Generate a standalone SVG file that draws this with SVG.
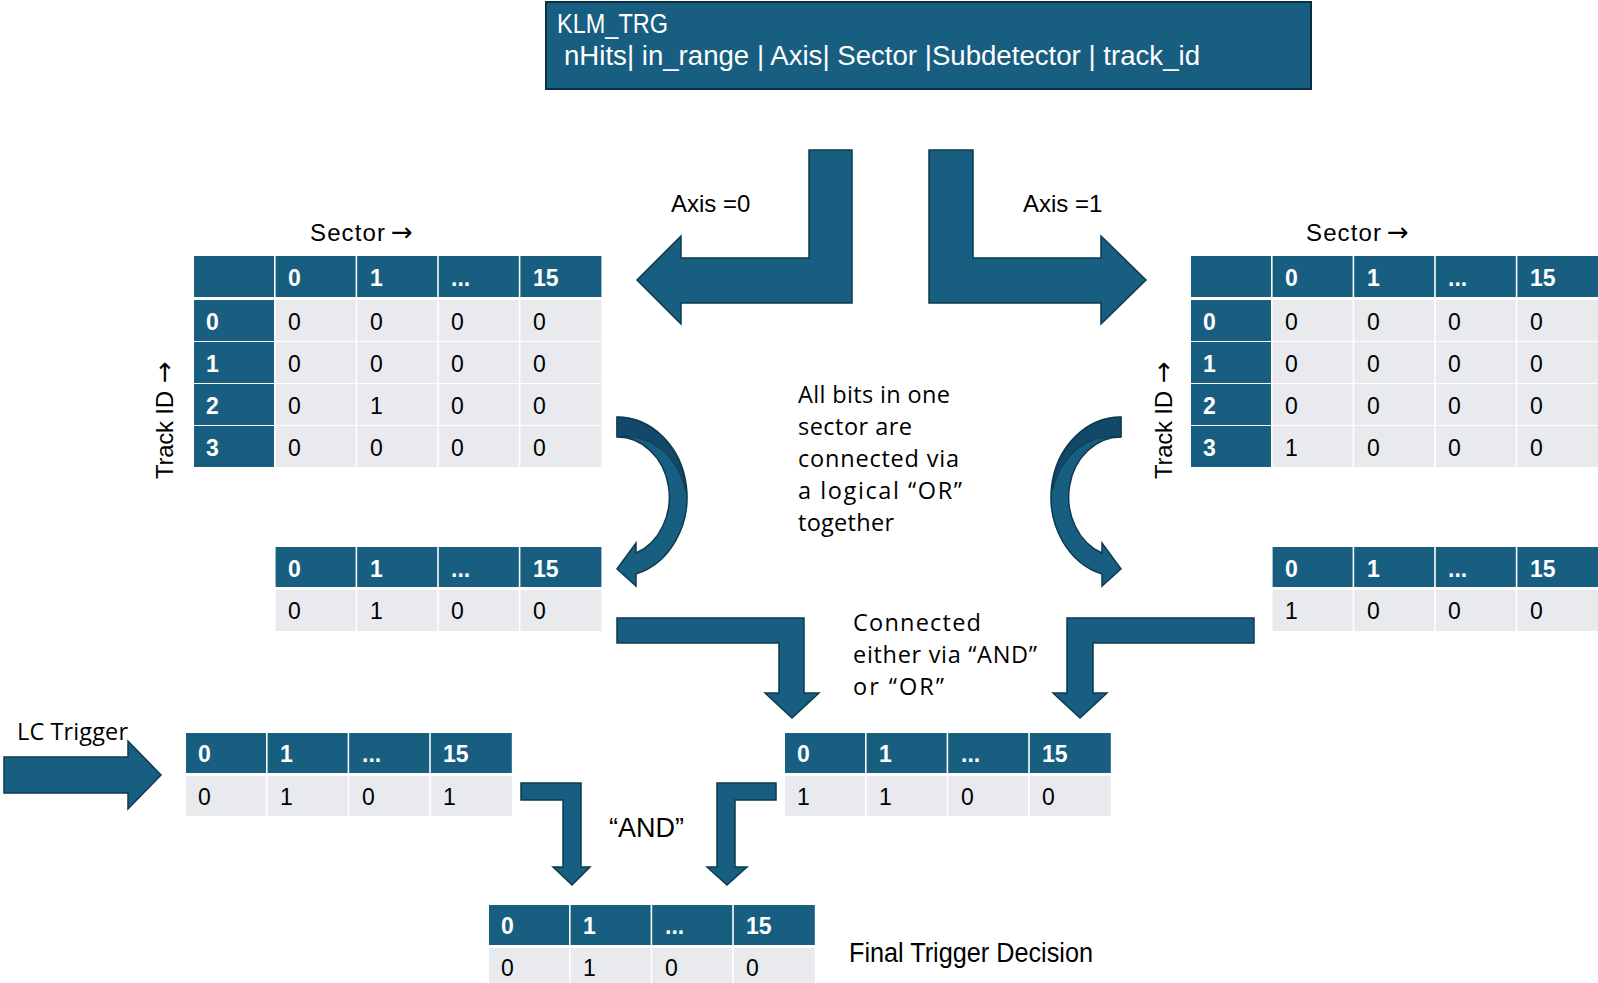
<svg xmlns="http://www.w3.org/2000/svg" width="1598" height="983" viewBox="0 0 1598 983">
<defs>
<style>
.h{fill:#175E81}
.d{fill:#E8EAED}
.ht{font-family:"Liberation Sans",Arial,sans-serif;font-weight:bold;font-size:23px;fill:#ffffff}
.dt{font-family:"Liberation Sans",Arial,sans-serif;font-size:23px;fill:#000000}
.lbl{font-family:"Liberation Sans",Arial,sans-serif;font-size:24px;fill:#000000}
.txt{font-family:"Open Sans","Liberation Sans",Arial,sans-serif;font-size:23.5px;fill:#000000}
.nar{font-family:"Liberation Sans",Arial,sans-serif;font-size:27px}
.ar{font-family:"DejaVu Sans",sans-serif;font-size:26px}
.arr{fill:#175E81;stroke:#0E3A4F;stroke-width:1.5;stroke-linejoin:miter}
.dark{fill:#12496A;stroke:#0E3A4F;stroke-width:1}
</style>
</defs>
<rect width="1598" height="983" fill="#ffffff"/>

<g id="klm_trg">
<rect x="546" y="2" width="765" height="87" fill="#175E81" stroke="#0B2E40" stroke-width="2"/>
<text class="nar" x="557" y="33" fill="#ffffff" textLength="111" lengthAdjust="spacingAndGlyphs">KLM_TRG</text>
<text class="nar" x="564" y="65" fill="#ffffff" textLength="636" lengthAdjust="spacingAndGlyphs">nHits| in_range | Axis| Sector |Subdetector | track_id</text>
</g>

<g id="connectors">
<path id="axis0-arrow" class="arr" d="M809,150 L852,150 L852,303 L681,303 L681,324 L637,280 L681,236 L681,258 L809,258 Z"/>
<path id="axis1-arrow" class="arr" d="M929,150 L973,150 L973,258 L1101,258 L1101,236 L1146,280 L1101,324 L1101,303 L929,303 Z"/>
<g id="curve-left">
<path class="arr" d="M617,417 A70,80 0 0 1 636,574 L636,586 L617,569 L636,543 L636,553 A52,60 0 0 0 617,437 Z"/>
<path class="dark" d="M617,417 A70,80 0 0 1 686,492 A62,72 0 0 0 617,437 Z"/>
</g>
<g id="curve-right" transform="matrix(-1,0,0,1,1738,0)">
<path class="arr" d="M617,417 A70,80 0 0 1 636,574 L636,586 L617,569 L636,543 L636,553 A52,60 0 0 0 617,437 Z"/>
<path class="dark" d="M617,417 A70,80 0 0 1 686,492 A62,72 0 0 0 617,437 Z"/>
</g>
<path id="or-left-down" class="arr" d="M617,618 L804,618 L804,693 L819,693 L792,718 L765,693 L779,693 L779,643 L617,643 Z"/>
<path id="or-right-down" class="arr" d="M1254,618 L1254,643 L1093,643 L1093,693 L1107,693 L1080,718 L1053,693 L1067,693 L1067,618 Z"/>
<path id="lc-arrow" class="arr" d="M4,757 L128,757 L128,741 L161,775 L128,809 L128,793 L4,793 Z"/>
<path id="and-left" class="arr" d="M521,783 L581,783 L581,867 L590,867 L572,885 L553,867 L563,867 L563,800 L521,800 Z"/>
<path id="and-right" class="arr" d="M776,783 L776,800 L735,800 L735,867 L747,867 L727,885 L707,867 L717,867 L717,783 Z"/>
</g>

<g id="labels">
<text class="lbl" x="671" y="212">Axis =0</text>
<text class="lbl" x="1023" y="212">Axis =1</text>
<text class="lbl" x="310" y="241"><tspan textLength="75">Sector</tspan><tspan class="ar" x="391">→</tspan></text>
<text class="lbl" x="1306" y="241"><tspan textLength="75">Sector</tspan><tspan class="ar" x="1387">→</tspan></text>
<text class="lbl" transform="translate(173,479) rotate(-90)"><tspan textLength="88">Track ID</tspan><tspan class="ar" x="96">→</tspan></text>
<text class="lbl" transform="translate(1172,479) rotate(-90)"><tspan textLength="88">Track ID</tspan><tspan class="ar" x="96">→</tspan></text>
<text class="txt" x="798" y="403" textLength="152">All bits in one</text>
<text class="txt" x="798" y="435" textLength="114">sector are</text>
<text class="txt" x="798" y="467" textLength="161">connected via</text>
<text class="txt" x="798" y="499" textLength="164">a logical  “OR”</text>
<text class="txt" x="798" y="531" textLength="96">together</text>
<text class="txt" x="853" y="631" textLength="128">Connected</text>
<text class="txt" x="853" y="663" textLength="184">either via “AND”</text>
<text class="txt" x="853" y="695" textLength="91">or  “OR”</text>
<text class="txt" x="17" y="740" textLength="111">LC Trigger</text>
<text class="nar" x="609" y="837" fill="#000000" textLength="75" lengthAdjust="spacingAndGlyphs">“AND”</text>
<text class="nar" x="849" y="962" fill="#000000" textLength="244" lengthAdjust="spacingAndGlyphs">Final Trigger Decision</text>
</g>

<g id="table-axis0">
<rect class="h" x="194" y="256" width="80" height="41"/>
<rect class="h" x="275.6" y="256" width="80" height="41"/>
<rect class="h" x="357.2" y="256" width="80" height="41"/>
<rect class="h" x="438.8" y="256" width="80" height="41"/>
<rect class="h" x="520.4" y="256" width="81" height="41"/>
<text class="ht" x="288" y="286">0</text><text class="ht" x="370" y="286">1</text><text class="ht" x="451" y="286">...</text><text class="ht" x="533" y="286">15</text>
<rect class="h" x="194" y="300" width="80" height="41"/><rect class="d" x="275.6" y="300" width="80" height="41"/><rect class="d" x="357.2" y="300" width="80" height="41"/><rect class="d" x="438.8" y="300" width="80" height="41"/><rect class="d" x="520.4" y="300" width="81" height="41"/>
<rect class="h" x="194" y="342" width="80" height="41"/><rect class="d" x="275.6" y="342" width="80" height="41"/><rect class="d" x="357.2" y="342" width="80" height="41"/><rect class="d" x="438.8" y="342" width="80" height="41"/><rect class="d" x="520.4" y="342" width="81" height="41"/>
<rect class="h" x="194" y="384" width="80" height="41"/><rect class="d" x="275.6" y="384" width="80" height="41"/><rect class="d" x="357.2" y="384" width="80" height="41"/><rect class="d" x="438.8" y="384" width="80" height="41"/><rect class="d" x="520.4" y="384" width="81" height="41"/>
<rect class="h" x="194" y="426" width="80" height="41"/><rect class="d" x="275.6" y="426" width="80" height="41"/><rect class="d" x="357.2" y="426" width="80" height="41"/><rect class="d" x="438.8" y="426" width="80" height="41"/><rect class="d" x="520.4" y="426" width="81" height="41"/>
<text class="ht" x="206" y="330">0</text><text class="dt" x="288" y="330">0</text><text class="dt" x="370" y="330">0</text><text class="dt" x="451" y="330">0</text><text class="dt" x="533" y="330">0</text>
<text class="ht" x="206" y="372">1</text><text class="dt" x="288" y="372">0</text><text class="dt" x="370" y="372">0</text><text class="dt" x="451" y="372">0</text><text class="dt" x="533" y="372">0</text>
<text class="ht" x="206" y="414">2</text><text class="dt" x="288" y="414">0</text><text class="dt" x="370" y="414">1</text><text class="dt" x="451" y="414">0</text><text class="dt" x="533" y="414">0</text>
<text class="ht" x="206" y="456">3</text><text class="dt" x="288" y="456">0</text><text class="dt" x="370" y="456">0</text><text class="dt" x="451" y="456">0</text><text class="dt" x="533" y="456">0</text>
</g>

<g id="table-axis1">
<rect class="h" x="1191" y="256" width="80" height="41"/>
<rect class="h" x="1272.6" y="256" width="80" height="41"/>
<rect class="h" x="1354.2" y="256" width="80" height="41"/>
<rect class="h" x="1435.8" y="256" width="80" height="41"/>
<rect class="h" x="1517.4" y="256" width="81" height="41"/>
<text class="ht" x="1285" y="286">0</text><text class="ht" x="1367" y="286">1</text><text class="ht" x="1448" y="286">...</text><text class="ht" x="1530" y="286">15</text>
<rect class="h" x="1191" y="300" width="80" height="41"/><rect class="d" x="1272.6" y="300" width="80" height="41"/><rect class="d" x="1354.2" y="300" width="80" height="41"/><rect class="d" x="1435.8" y="300" width="80" height="41"/><rect class="d" x="1517.4" y="300" width="81" height="41"/>
<rect class="h" x="1191" y="342" width="80" height="41"/><rect class="d" x="1272.6" y="342" width="80" height="41"/><rect class="d" x="1354.2" y="342" width="80" height="41"/><rect class="d" x="1435.8" y="342" width="80" height="41"/><rect class="d" x="1517.4" y="342" width="81" height="41"/>
<rect class="h" x="1191" y="384" width="80" height="41"/><rect class="d" x="1272.6" y="384" width="80" height="41"/><rect class="d" x="1354.2" y="384" width="80" height="41"/><rect class="d" x="1435.8" y="384" width="80" height="41"/><rect class="d" x="1517.4" y="384" width="81" height="41"/>
<rect class="h" x="1191" y="426" width="80" height="41"/><rect class="d" x="1272.6" y="426" width="80" height="41"/><rect class="d" x="1354.2" y="426" width="80" height="41"/><rect class="d" x="1435.8" y="426" width="80" height="41"/><rect class="d" x="1517.4" y="426" width="81" height="41"/>
<text class="ht" x="1203" y="330">0</text><text class="dt" x="1285" y="330">0</text><text class="dt" x="1367" y="330">0</text><text class="dt" x="1448" y="330">0</text><text class="dt" x="1530" y="330">0</text>
<text class="ht" x="1203" y="372">1</text><text class="dt" x="1285" y="372">0</text><text class="dt" x="1367" y="372">0</text><text class="dt" x="1448" y="372">0</text><text class="dt" x="1530" y="372">0</text>
<text class="ht" x="1203" y="414">2</text><text class="dt" x="1285" y="414">0</text><text class="dt" x="1367" y="414">0</text><text class="dt" x="1448" y="414">0</text><text class="dt" x="1530" y="414">0</text>
<text class="ht" x="1203" y="456">3</text><text class="dt" x="1285" y="456">1</text><text class="dt" x="1367" y="456">0</text><text class="dt" x="1448" y="456">0</text><text class="dt" x="1530" y="456">0</text>
</g>

<g id="or-axis0">
<rect class="h" x="275.6" y="547" width="80" height="40"/><rect class="h" x="357.2" y="547" width="80" height="40"/><rect class="h" x="438.8" y="547" width="80" height="40"/><rect class="h" x="520.4" y="547" width="81" height="40"/>
<rect class="d" x="275.6" y="590" width="80" height="41"/><rect class="d" x="357.2" y="590" width="80" height="41"/><rect class="d" x="438.8" y="590" width="80" height="41"/><rect class="d" x="520.4" y="590" width="81" height="41"/>
<text class="ht" x="288" y="577">0</text><text class="ht" x="370" y="577">1</text><text class="ht" x="451" y="577">...</text><text class="ht" x="533" y="577">15</text>
<text class="dt" x="288" y="619">0</text><text class="dt" x="370" y="619">1</text><text class="dt" x="451" y="619">0</text><text class="dt" x="533" y="619">0</text>
</g>

<g id="or-axis1">
<rect class="h" x="1272.6" y="547" width="80" height="40"/><rect class="h" x="1354.2" y="547" width="80" height="40"/><rect class="h" x="1435.8" y="547" width="80" height="40"/><rect class="h" x="1517.4" y="547" width="81" height="40"/>
<rect class="d" x="1272.6" y="590" width="80" height="41"/><rect class="d" x="1354.2" y="590" width="80" height="41"/><rect class="d" x="1435.8" y="590" width="80" height="41"/><rect class="d" x="1517.4" y="590" width="81" height="41"/>
<text class="ht" x="1285" y="577">0</text><text class="ht" x="1367" y="577">1</text><text class="ht" x="1448" y="577">...</text><text class="ht" x="1530" y="577">15</text>
<text class="dt" x="1285" y="619">1</text><text class="dt" x="1367" y="619">0</text><text class="dt" x="1448" y="619">0</text><text class="dt" x="1530" y="619">0</text>
</g>

<g id="lc-trigger">
<rect class="h" x="186" y="733" width="80" height="40"/><rect class="h" x="267.6" y="733" width="80" height="40"/><rect class="h" x="349.2" y="733" width="80" height="40"/><rect class="h" x="430.8" y="733" width="81" height="40"/>
<rect class="d" x="186" y="776" width="80" height="40"/><rect class="d" x="267.6" y="776" width="80" height="40"/><rect class="d" x="349.2" y="776" width="80" height="40"/><rect class="d" x="430.8" y="776" width="81" height="40"/>
<text class="ht" x="198" y="762">0</text><text class="ht" x="280" y="762">1</text><text class="ht" x="362" y="762">...</text><text class="ht" x="443" y="762">15</text>
<text class="dt" x="198" y="805">0</text><text class="dt" x="280" y="805">1</text><text class="dt" x="362" y="805">0</text><text class="dt" x="443" y="805">1</text>
</g>

<g id="combined">
<rect class="h" x="785" y="733" width="80" height="40"/><rect class="h" x="866.6" y="733" width="80" height="40"/><rect class="h" x="948.2" y="733" width="80" height="40"/><rect class="h" x="1029.8" y="733" width="81" height="40"/>
<rect class="d" x="785" y="776" width="80" height="40"/><rect class="d" x="866.6" y="776" width="80" height="40"/><rect class="d" x="948.2" y="776" width="80" height="40"/><rect class="d" x="1029.8" y="776" width="81" height="40"/>
<text class="ht" x="797" y="762">0</text><text class="ht" x="879" y="762">1</text><text class="ht" x="961" y="762">...</text><text class="ht" x="1042" y="762">15</text>
<text class="dt" x="797" y="805">1</text><text class="dt" x="879" y="805">1</text><text class="dt" x="961" y="805">0</text><text class="dt" x="1042" y="805">0</text>
</g>

<g id="final">
<rect class="h" x="489" y="905" width="80" height="40"/><rect class="h" x="570.6" y="905" width="80" height="40"/><rect class="h" x="652.2" y="905" width="80" height="40"/><rect class="h" x="733.8" y="905" width="81" height="40"/>
<rect class="d" x="489" y="948" width="80" height="40"/><rect class="d" x="570.6" y="948" width="80" height="40"/><rect class="d" x="652.2" y="948" width="80" height="40"/><rect class="d" x="733.8" y="948" width="81" height="40"/>
<text class="ht" x="501" y="934">0</text><text class="ht" x="583" y="934">1</text><text class="ht" x="665" y="934">...</text><text class="ht" x="746" y="934">15</text>
<text class="dt" x="501" y="976">0</text><text class="dt" x="583" y="976">1</text><text class="dt" x="665" y="976">0</text><text class="dt" x="746" y="976">0</text>
</g>
</svg>
